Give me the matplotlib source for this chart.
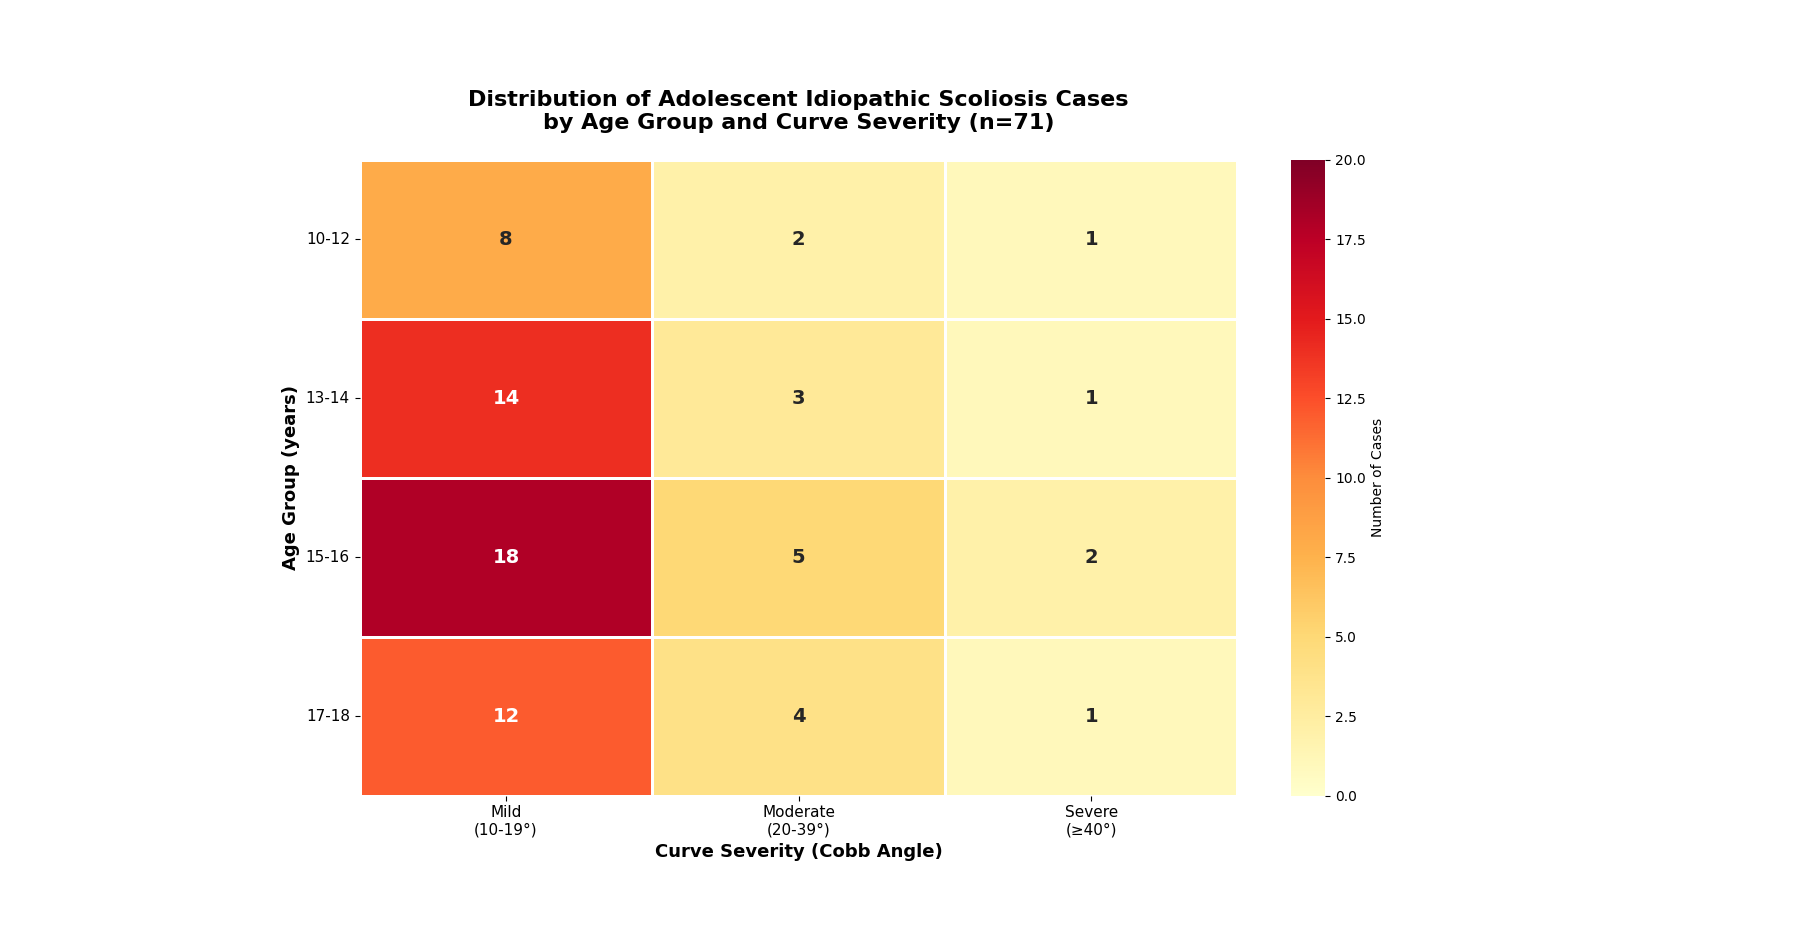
import numpy as np
import matplotlib
matplotlib.use("Agg")
import matplotlib.pyplot as plt
import seaborn as sns

age_groups = ["10-12", "13-14", "15-16", "17-18"]
severity = ["Mild\n(10-19°)", "Moderate\n(20-39°)", "Severe\n(≥40°)"]
mild = [8, 14, 18, 12]
moderate = [2, 3, 5, 4]
severe = [1, 1, 2, 1]

counts = np.array([mild, moderate, severe]).T

fig = plt.figure(figsize=(18.1, 9.4), dpi=100)
ax = fig.add_axes([0.1987, 0.1535, 0.485, 0.6767])
cax = fig.add_axes([0.7134, 0.1535, 0.0188, 0.6767])

sns.heatmap(counts, ax=ax, cbar_ax=cax, cmap="YlOrRd", vmin=0, vmax=20,
            annot=True, fmt="d", annot_kws={"size": 14, "weight": "bold"},
            linewidths=2, linecolor="white",
            xticklabels=severity, yticklabels=age_groups,
            cbar_kws={"label": "Number of Cases"})

ax.set_title("Distribution of Adolescent Idiopathic Scoliosis Cases\nby Age Group and Curve Severity (n=71)",
             fontsize=16, fontweight="bold", pad=22)
ax.set_xlabel("Curve Severity (Cobb Angle)", fontsize=13, fontweight="bold")
ax.set_ylabel("Age Group (years)", fontsize=13, fontweight="bold")
ax.tick_params(axis="x", labelsize=11, rotation=0)
ax.tick_params(axis="y", labelsize=11, rotation=0)
cax.tick_params(labelsize=10)
cax.yaxis.label.set_size(10)

fig.savefig("out.png", dpi=100)
